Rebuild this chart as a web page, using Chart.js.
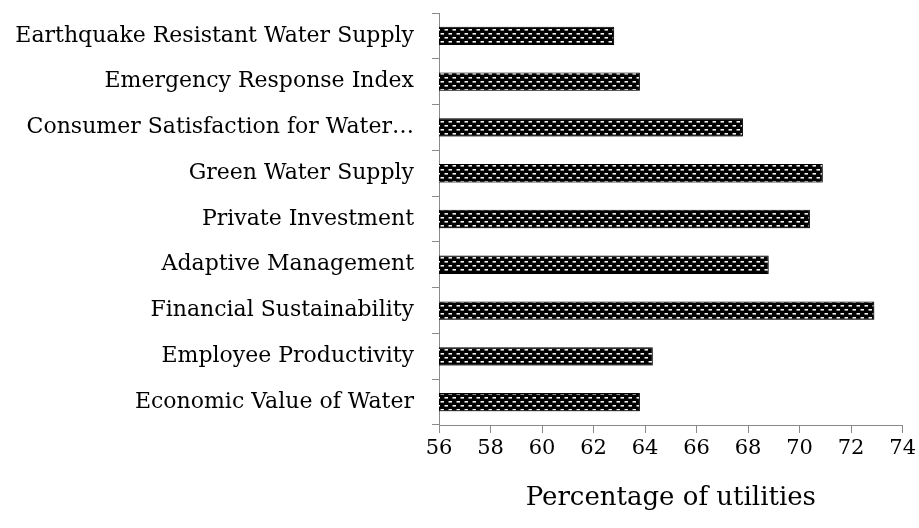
<!DOCTYPE html>
<html>
<head>
<meta charset="utf-8">
<script src="https://cdn.jsdelivr.net/npm/chart.js@4.4.0/dist/chart.umd.min.js"></script>
<style>
  html, body { margin: 0; padding: 0; background: #fff; }
  #wrap { width: 919px; height: 528px; }
</style>
</head>
<body>
<div id="wrap"><canvas id="chart" width="919" height="528"></canvas></div>
<script>
// categories top to bottom, as in the picture
const categories = [
    'Earthquake Resistant Water Supply',
    'Emergency Response Index',
    'Consumer Satisfaction for Water\u2026',
    'Green Water Supply',
    'Private Investment',
    'Adaptive Management',
    'Financial Sustainability',
    'Employee Productivity',
    'Economic Value of Water'
];
const percentages = [62.8, 63.8, 67.8, 70.9, 70.4, 68.8, 72.9, 64.3, 63.8];
const xMin = 56;
const xMax = 74;
const xStep = 2;

const axisGray = '#8a8a8a';
const fontFamily = '"DejaVu Serif", "Liberation Serif", serif';

function makePattern() {
    const tile = document.createElement('canvas');
    tile.width = 8;
    tile.height = 8;
    const t = tile.getContext('2d');
    t.fillStyle = '#000';
    t.fillRect(0, 0, 8, 8);
    t.fillStyle = '#f2f2f2';
    t.fillRect(0.5, 1, 3.5, 1.6);
    t.fillRect(4.5, 5, 3.5, 1.6);
    return document.getElementById('chart').getContext('2d').createPattern(tile, 'repeat');
}

const shadowPlugin = {
    id: 'barShadow',
    beforeDatasetsDraw(chart) {
        const ctx = chart.ctx;
        ctx.save();
        ctx.shadowColor = 'rgba(0,0,0,0.35)';
        ctx.shadowBlur = 4;
        ctx.shadowOffsetX = 2;
        ctx.shadowOffsetY = 3;
    },
    afterDatasetsDraw(chart) {
        chart.ctx.restore();
    }
};

const ctx = document.getElementById('chart').getContext('2d');
const chart = new Chart(ctx, {
    type: 'bar',
    data: {
        labels: categories,
        datasets: [{
            data: percentages,
            backgroundColor: makePattern(),
            borderColor: '#000',
            borderWidth: 1,
            barPercentage: 0.4,
            categoryPercentage: 1.0
        }]
    },
    options: {
        indexAxis: 'y',
        responsive: false,
        animation: false,
        layout: { padding: { top: 13, right: 16, left: 0, bottom: 0 } },
        plugins: {
            legend: { display: false },
            tooltip: { enabled: false }
        },
        scales: {
            x: {
                min: xMin,
                max: xMax,
                ticks: {
                    stepSize: xStep,
                    color: '#000',
                    font: { family: fontFamily, size: 21 },
                    padding: 3
                },
                grid: {
                    drawOnChartArea: false,
                    color: axisGray,
                    tickLength: 8
                },
                border: { color: axisGray, width: 1 },
                title: {
                    display: true,
                    text: 'Percentage of utilities',
                    color: '#000',
                    font: { family: fontFamily, size: 26 },
                    padding: { top: 0, bottom: 14 }
                },
                afterFit(scale) { scale.height = 103; }
            },
            y: {
                ticks: {
                    color: '#000',
                    font: { family: fontFamily, size: 22 },
                    padding: 18
                },
                grid: {
                    drawOnChartArea: false,
                    color: axisGray,
                    tickLength: 7,
                    offset: true
                },
                border: { color: axisGray, width: 1 },
                afterFit(scale) {
                    scale.width = 439;
                    scale.paddingTop = 0;
                    scale.paddingBottom = 0;
                }
            }
        }
    },
    plugins: [shadowPlugin]
});
</script>
</body>
</html>
